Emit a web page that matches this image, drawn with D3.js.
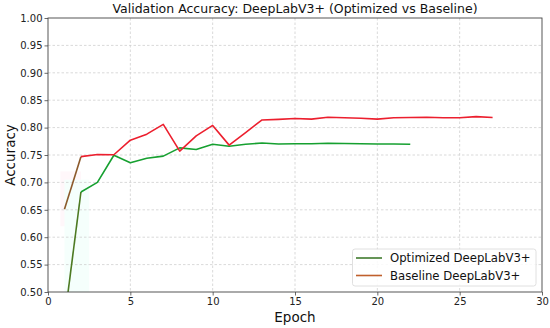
<!DOCTYPE html>
<html><head><meta charset="utf-8">
<script src="https://d3js.org/d3.v7.min.js"></script>
<style>body{margin:0;background:#fff}svg{display:block;font-family:"DejaVu Sans",sans-serif}</style>
</head><body><svg id="c" width="550" height="328"></svg>
<script>
const epochsOpt = d3.range(1, 23);
const accOpt = [0.449,0.6825,0.700,0.7495,0.736,0.744,0.748,0.763,0.760,0.7695,0.766,0.7695,0.772,0.770,0.7705,0.7705,0.7715,0.771,0.7705,0.770,0.770,0.7695];
const epochsBase = d3.range(1, 28);
const accBase = [0.651,0.747,0.751,0.7505,0.777,0.788,0.806,0.757,0.785,0.804,0.768,0.791,0.814,0.815,0.8165,0.8155,0.819,0.818,0.817,0.8155,0.818,0.8185,0.819,0.818,0.818,0.820,0.8185];
const xTicks = [0,5,10,15,20,25,30];
const yTicks = [0.50,0.55,0.60,0.65,0.70,0.75,0.80,0.85,0.90,0.95,1.00];
const seriesNames = ["Optimized DeepLabV3+","Baseline DeepLabV3+"];
const title = "Validation Accuracy: DeepLabV3+ (Optimized vs Baseline)";

const svg = d3.select("#c");
const L=48,R=542,T=18,B=292;
const x = d3.scaleLinear().domain([0,30]).range([L,R]);
const y = d3.scaleLinear().domain([0.5,1.0]).range([B,T]);

svg.append("defs").append("clipPath").attr("id","clip").append("rect")
  .attr("x",L).attr("y",T).attr("width",R-L).attr("height",B-T);

// faint shading artifacts
svg.append("rect").attr("x",x(0.75)).attr("y",y(0.72)).attr("width",x(2)-x(0.75)).attr("height",y(0.62)-y(0.72)).attr("fill","#fff7fa");
svg.append("rect").attr("x",x(1)).attr("y",y(0.705)).attr("width",x(2.5)-x(1)).attr("height",B-y(0.705)).attr("fill","#f5fffc");

// grid
const g = svg.append("g");
g.selectAll(".gx").data(xTicks.slice(1,-1)).join("line")
  .attr("x1",d=>x(d)).attr("x2",d=>x(d)).attr("y1",T).attr("y2",B)
  .attr("stroke","#cfcfcf").attr("stroke-width",0.8).attr("stroke-dasharray","2.5,2");
g.selectAll(".gy").data(yTicks.slice(1,-1)).join("line")
  .attr("y1",d=>y(d)).attr("y2",d=>y(d)).attr("x1",L).attr("x2",R)
  .attr("stroke","#cfcfcf").attr("stroke-width",0.8).attr("stroke-dasharray","2.5,2");

// lines
const line = d3.line().x(d=>x(d[0])).y(d=>y(d[1]));
const plot = svg.append("g").attr("clip-path","url(#clip)");
function drawSeries(ep, acc, color, firstColor){
  const pts = ep.map((e,i)=>[e,acc[i]]);
  plot.append("path").datum(pts.slice(0,2)).attr("d",line).attr("fill","none")
    .attr("stroke",firstColor).attr("stroke-width",1.6);
  plot.append("path").datum(pts.slice(1)).attr("d",line).attr("fill","none")
    .attr("stroke",color).attr("stroke-width",1.6).attr("stroke-linejoin","round");
}
drawSeries(epochsOpt, accOpt, "#16a030", "#4d7a22");
drawSeries(epochsBase, accBase, "#ec1f2e", "#8c5a2c");

// axes
const xa = svg.append("g").attr("transform",`translate(0,${B})`)
  .call(d3.axisBottom(x).tickValues(xTicks).tickFormat(d3.format("d")).tickSize(3.5).tickPadding(2));
const ya = svg.append("g").attr("transform",`translate(${L},0)`)
  .call(d3.axisLeft(y).tickValues(yTicks).tickFormat(d3.format(".2f")).tickSize(3.5).tickPadding(2));
[xa,ya].forEach(a=>{
  a.select(".domain").remove();
  a.selectAll("line").attr("stroke","#444").attr("stroke-width",0.8);
  a.selectAll("text").attr("font-size",10).attr("fill","#222").attr("font-family","DejaVu Sans");
});
svg.append("rect").attr("x",L).attr("y",T).attr("width",R-L).attr("height",B-T)
  .attr("fill","none").attr("stroke","#444").attr("stroke-width",0.9);

// labels
svg.append("text").attr("x",(L+R)/2).attr("y",13).attr("text-anchor","middle")
  .attr("font-size",12.5).attr("fill","#111").text(title);
svg.append("text").attr("x",(L+R)/2).attr("y",322).attr("text-anchor","middle")
  .attr("font-size",13.5).attr("fill","#111").text("Epoch");
svg.append("text").attr("transform",`translate(15,${(T+B)/2}) rotate(-90)`).attr("text-anchor","middle")
  .attr("font-size",13.5).attr("fill","#111").text("Accuracy");

// legend
const lg = svg.append("g");
lg.append("rect").attr("x",352.5).attr("y",249).attr("width",183.5).attr("height",37).attr("rx",2.5)
  .attr("fill","#fff").attr("fill-opacity",0.85).attr("stroke","#d8d8d8").attr("stroke-width",0.8);
const legColors = ["#3f7a2c","#c0602c"];
seriesNames.forEach((n,i)=>{
  const yy = 258 + i*17.5;
  lg.append("line").attr("x1",356).attr("x2",382).attr("y1",yy).attr("y2",yy)
    .attr("stroke",legColors[i]).attr("stroke-width",1.6);
  lg.append("text").attr("x",390).attr("y",yy+4).attr("font-size",11.7).attr("fill","#111").text(n);
});
</script></body></html>
